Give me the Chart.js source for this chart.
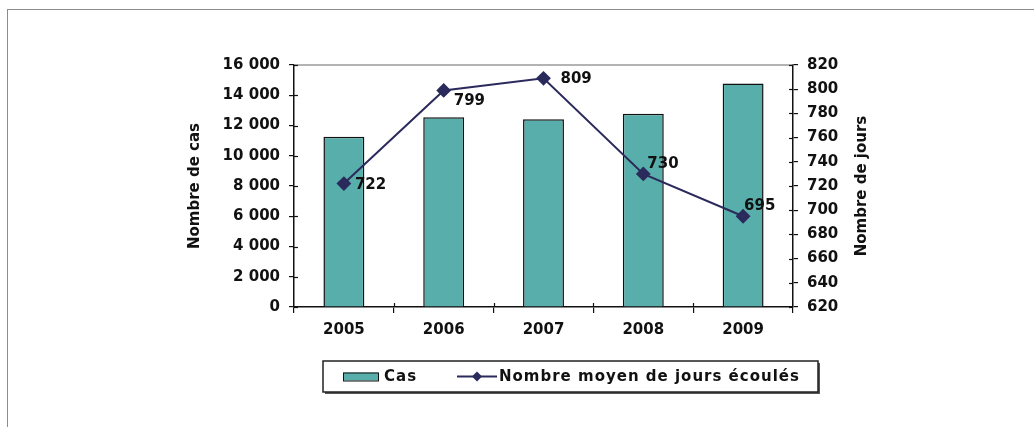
<!DOCTYPE html>
<html lang="fr">
<head>
<meta charset="utf-8">
<script src="https://cdn.jsdelivr.net/npm/chart.js@4.4.1/dist/chart.umd.min.js"></script>
<style>
    html, body { margin: 0; padding: 0; background: #fff; overflow: hidden; }
    .frame { position: absolute; left: 7px; top: 9px; width: 1100px; height: 500px; border: 1px solid #8c8c8c; }
    .wrap { position: absolute; left: 0; top: 0; width: 1034px; height: 427px; }
</style>
</head>
<body>
<div class="frame"></div>
<div class="wrap"><canvas id="chart"></canvas></div>
<script>
const years = ["2005", "2006", "2007", "2008", "2009"];
const cas = [11250, 12550, 12420, 12780, 14780];
const joursMoyens = [722, 799, 809, 730, 695];
const casTitle = "Nombre de cas";
const joursTitle = "Nombre de jours";
const casLabel = "Cas";
const joursLabel = "Nombre moyen de jours écoulés";

// where each value label sits relative to its point
const labelOffsets = [[11, 2], [10, 11], [17, 1], [4, -10], [1, -10]];

const TEAL = "#58aeaa";
const NAVY = "#2b2a5c";
const INK = "#111";
const FONT = "'DejaVu Sans', Verdana, sans-serif";

const fmt = v => String(v).replace(/\B(?=(\d{3})+(?!\d))/g, " ");

const decor = {
    id: "decor",
    afterDatasetsDraw(c) {
        const ctx = c.ctx, a = c.chartArea;
        ctx.save();
        // top line of the plot area
        ctx.strokeStyle = "#9a9a9a";
        ctx.lineWidth = 1.5;
        ctx.beginPath(); ctx.moveTo(a.left, a.top); ctx.lineTo(a.right, a.top); ctx.stroke();

        // inner halves of tick marks
        ctx.strokeStyle = INK;
        ctx.lineWidth = 1.2;
        const y = c.scales.y, y1 = c.scales.y1;
        y.ticks.forEach((t, i) => {
            const p = Math.round(y.getPixelForTick(i)) + 0.5;
            ctx.beginPath(); ctx.moveTo(a.left, p); ctx.lineTo(a.left + 4, p); ctx.stroke();
        });
        y1.ticks.forEach((t, i) => {
            const p = Math.round(y1.getPixelForTick(i)) + 0.5;
            ctx.beginPath(); ctx.moveTo(a.right - 4, p); ctx.lineTo(a.right, p); ctx.stroke();
        });
        const step = (a.right - a.left) / years.length;
        for (let i = 1; i < years.length; i++) {
            const p = Math.round(a.left + step * i) + 0.5;
            ctx.beginPath(); ctx.moveTo(p, a.bottom - 4); ctx.lineTo(p, a.bottom); ctx.stroke();
        }

        // value labels on the line
        const meta = c.getDatasetMeta(1);
        ctx.fillStyle = INK;
        ctx.font = "bold 15px " + FONT;
        ctx.textAlign = "left";
        ctx.textBaseline = "middle";
        meta.data.forEach((pt, i) => {
            const o = labelOffsets[i];
            ctx.fillText(String(joursMoyens[i]), pt.x + o[0], pt.y + o[1]);
        });

        // right axis title, read from bottom to top like the left one
        ctx.save();
        ctx.translate(862, (a.top + a.bottom) / 2);
        ctx.rotate(-Math.PI / 2);
        ctx.textAlign = "center";
        ctx.fillText(joursTitle, 0, 0);
        ctx.restore();
        ctx.restore();
    },
    afterDraw(c) {
        // boxed legend under the axis
        const ctx = c.ctx;
        const bx = 323, by = 361, bw = 495, bh = 31;
        ctx.save();
        ctx.fillStyle = "#555";
        ctx.fillRect(bx + 2, by + 2, bw, bh);
        ctx.fillStyle = "#fff";
        ctx.fillRect(bx, by, bw, bh);
        ctx.strokeStyle = "#222";
        ctx.lineWidth = 1.5;
        ctx.strokeRect(bx, by, bw, bh);

        const cy = by + bh / 2;
        ctx.fillStyle = TEAL;
        ctx.fillRect(343, cy - 4, 35, 8);
        ctx.strokeStyle = INK;
        ctx.lineWidth = 1;
        ctx.strokeRect(343.5, cy - 3.5, 35, 8);

        ctx.strokeStyle = NAVY;
        ctx.lineWidth = 2;
        ctx.beginPath(); ctx.moveTo(457, cy); ctx.lineTo(497, cy); ctx.stroke();
        ctx.fillStyle = NAVY;
        ctx.beginPath();
        ctx.moveTo(477, cy - 5); ctx.lineTo(482, cy); ctx.lineTo(477, cy + 5); ctx.lineTo(472, cy);
        ctx.closePath(); ctx.fill();

        ctx.fillStyle = INK;
        ctx.font = "bold 15px " + FONT;
        ctx.textAlign = "left";
        ctx.textBaseline = "middle";
        ctx.letterSpacing = "1px";
        ctx.fillText(casLabel, 384, cy + 1);
        ctx.fillText(joursLabel, 499, cy + 1);
        ctx.restore();
    }
};

const tickFont = { family: FONT, size: 15, weight: "bold" };

new Chart(document.getElementById("chart"), {
    data: {
        labels: years,
        datasets: [
            {
                type: "bar", label: casLabel, data: cas, yAxisID: "y", order: 2,
                backgroundColor: TEAL, borderColor: INK, borderWidth: 1.5,
                barPercentage: 0.41, categoryPercentage: 1
            },
            {
                type: "line", label: joursLabel, data: joursMoyens, yAxisID: "y1", order: 1,
                borderColor: NAVY, borderWidth: 2, tension: 0,
                pointStyle: "rectRot", pointRadius: 6, pointBackgroundColor: NAVY, pointBorderColor: NAVY
            }
        ]
    },
    options: {
        responsive: true,
        maintainAspectRatio: false,
        animation: false,
        layout: { padding: { top: 65, left: 0, right: 0, bottom: 0 } },
        plugins: { legend: { display: false }, tooltip: { enabled: false } },
        scales: {
            x: {
                offset: true,
                afterFit: s => { s.height = 120; },
                grid: { offset: true, drawOnChartArea: false, tickLength: 6, color: INK, lineWidth: 1.2 },
                border: { color: INK, width: 1.5 },
                ticks: { color: INK, font: tickFont, padding: 8 }
            },
            y: {
                position: "left", min: 0, max: 16000,
                afterFit: s => { s.width = 294; },
                grid: { drawOnChartArea: false, tickLength: 5, color: INK, lineWidth: 1.2 },
                border: { color: INK, width: 1.5 },
                ticks: { stepSize: 2000, color: INK, font: tickFont, padding: 9, callback: v => fmt(v) },
                title: { display: true, text: casTitle, color: INK, font: tickFont, padding: { top: 186, bottom: 0 } }
            },
            y1: {
                position: "right", min: 620, max: 820,
                afterFit: s => { s.width = 241; },
                grid: { drawOnChartArea: false, tickLength: 5, color: INK, lineWidth: 1.2 },
                border: { color: INK, width: 1.5 },
                ticks: { stepSize: 20, color: INK, font: tickFont, padding: 9 }
            }
        }
    },
    plugins: [decor]
});
</script>
</body>
</html>
